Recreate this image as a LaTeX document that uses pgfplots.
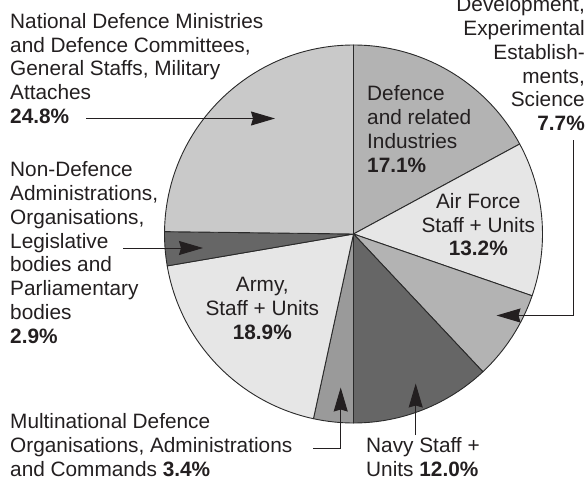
\documentclass[border=0pt]{standalone}
\usepackage{pgfplots}
\pgfplotsset{compat=1.18}
\usepackage{pgfplotstable}
\usepackage{fontspec}
\setmainfont{Liberation Sans}
\usetikzlibrary{arrows.meta}

\definecolor{txt}{HTML}{231F20}
\definecolor{edge}{HTML}{2A2A2A}
\definecolor{cInd}{HTML}{B3B3B3}
\definecolor{cAir}{HTML}{E6E6E6}
\definecolor{cRes}{HTML}{B3B3B3}
\definecolor{cNavy}{HTML}{666666}
\definecolor{cMulti}{HTML}{9A9A9A}
\definecolor{cArmy}{HTML}{E6E6E6}
\definecolor{cNon}{HTML}{666666}
\definecolor{cMin}{HTML}{C9C9C9}

% slices clockwise from 12 o'clock
\pgfplotstableread{
name value col
ind 17.1 cInd
air 13.2 cAir
res 7.7 cRes
navy 12.0 cNavy
multi 3.4 cMulti
army 18.9 cArmy
nondef 2.9 cNon
min 24.8 cMin
}\piedata

\def\cum{90}
\pgfplotsforeachungrouped \i in {0,1,2,3,4,5,6,7}{%
  \pgfplotstablegetelem{\i}{value}\of\piedata
  \pgfmathsetmacro\endang{\cum-3.6*\pgfplotsretval}%
  \expandafter\xdef\csname sa\i\endcsname{\cum}%
  \expandafter\xdef\csname ea\i\endcsname{\endang}%
  \pgfplotstablegetelem{\i}{col}\of\piedata
  \expandafter\xdef\csname pc\i\endcsname{\pgfplotsretval}%
  \global\let\cum\endang
}

\newcommand\lf{\fontsize{20.8}{24}\selectfont}
\newcommand\tl[4]{\node[anchor=base #3, inner sep=0pt, font=\lf, text=txt] at (axis cs:#1,#2) {#4};}

\begin{document}
\begin{tikzpicture}
\useasboundingbox (0,0) rectangle (587pt,479pt);
\clip (0,0) rectangle (587pt,479pt);
\begin{axis}[scale only axis, width=587pt, height=479pt,
  xmin=0, xmax=587, ymin=0, ymax=479, y dir=reverse,
  hide axis, clip=false, at={(0,0)}, anchor=south west]

\pgfplotsinvokeforeach{0,1,2,3,4,5,6,7}{
  \fill[fill=\csname pc#1\endcsname, draw=edge, line width=0.9pt, line join=round]
    (axis cs:353.5,234) -- ++(\csname sa#1\endcsname:189pt)
    arc[start angle=\csname sa#1\endcsname, end angle=\csname ea#1\endcsname, radius=189pt] -- cycle;
}

% arrows
\tikzset{conn/.style={draw=txt, line width=1pt, -{Stealth[length=24pt,width=14pt,inset=2pt]}}}
\draw[conn] (axis cs:86,118.5) -- (axis cs:275,118.5);
\draw[conn] (axis cs:123,248) -- (axis cs:203,248);
\draw[conn] (axis cs:573,140) -- (axis cs:573,315.5) -- (axis cs:496.5,315.5);
\draw[conn] (axis cs:313,448.3) -- (axis cs:340.7,448.3) -- (axis cs:340.7,387.5);
\draw[conn] (axis cs:415.7,435) -- (axis cs:415.7,383.5);

% top-left block
\tl{10}{28.3}{west}{National Defence Ministries}
\tl{10}{52.1}{west}{and Defence Committees,}
\tl{10}{75.8}{west}{General Staffs, Military}
\tl{10}{99.6}{west}{Attaches}
\tl{10}{123.3}{west}{\textbf{24.8\%}}

% research block
\tl{585}{11.7}{east}{Development,}
\tl{585}{35.5}{east}{Experimental}
\tl{585}{59.3}{east}{Establish-}
\tl{585}{83.1}{east}{ments,}
\tl{585}{106.9}{east}{Science}
\tl{585}{130.7}{east}{\textbf{7.7\%}}

% industries
\tl{367}{100.7}{west}{Defence}
\tl{367}{124.5}{west}{and related}
\tl{367}{148.3}{west}{Industries}
\tl{367}{172.1}{west}{\textbf{17.1\%}}

% air force
\tl{478.3}{208.3}{}{Air Force}
\tl{478.3}{232}{}{Staff + Units}
\tl{478.3}{255.8}{}{\textbf{13.2\%}}

% army
\tl{262.3}{291.7}{}{Army,}
\tl{262.3}{315.5}{}{Staff + Units}
\tl{262.3}{339.2}{}{\textbf{18.9\%}}

% non-defence
\tl{10}{176.7}{west}{Non-Defence}
\tl{10}{200.5}{west}{Administrations,}
\tl{10}{224.3}{west}{Organisations,}
\tl{10}{248}{west}{Legislative}
\tl{10}{271.8}{west}{bodies and}
\tl{10}{295.6}{west}{Parliamentary}
\tl{10}{319.4}{west}{bodies}
\tl{10}{343.2}{west}{\textbf{2.9\%}}

% multinational
\tl{10}{428.3}{west}{Multinational Defence}
\tl{10}{452.2}{west}{Organisations, Administrations}
\tl{10}{476}{west}{and Commands \textbf{3.4\%}}

% navy
\tl{366}{452.5}{west}{Navy Staff +}
\tl{366}{476}{west}{Units \textbf{12.0\%}}

\end{axis}
\end{tikzpicture}
\end{document}
